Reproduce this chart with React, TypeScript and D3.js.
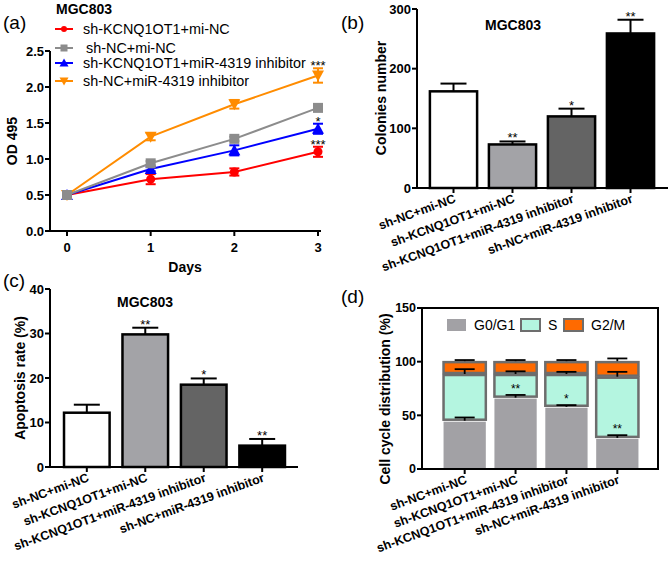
import React from "react";
import * as d3 from "d3";

// ---------- Data ----------
const days = [0, 1, 2, 3];
const lineSeries = ["sh-KCNQ1OT1+mi-NC", "sh-NC+mi-NC", "sh-KCNQ1OT1+miR-4319 inhibitor", "sh-NC+miR-4319 inhibitor"];
const lineColors = ["#ff0000", "#8c8c8c", "#0000ff", "#ff8c00"];
const lineShapes = ["circle", "square", "triangleUp", "triangleDown"];
const odValues = [
  [0.5, 0.72, 0.82, 1.1],
  [0.5, 0.94, 1.28, 1.71],
  [0.5, 0.86, 1.12, 1.42],
  [0.5, 1.31, 1.76, 2.16],
];
const odErrors = [
  [0.02, 0.07, 0.05, 0.07],
  [0.02, 0.03, 0.03, 0.04],
  [0.02, 0.03, 0.07, 0.07],
  [0.02, 0.05, 0.06, 0.1],
];
const odStars = ["***", "", "*", "***"];
const odTicks = [0, 0.5, 1.0, 1.5, 2.0, 2.5];
const drawOrder = [0, 2, 3, 1];

const groups = ["sh-NC+mi-NC", "sh-KCNQ1OT1+mi-NC", "sh-KCNQ1OT1+miR-4319 inhibitor", "sh-NC+miR-4319 inhibitor"];
const barFills = ["#ffffff", "#a3a3a7", "#646464", "#000000"];

const colonies = [162, 73, 120, 259];
const coloniesErr = [13, 5, 13, 23];
const coloniesStars = ["", "**", "*", "**"];
const coloniesTicks = [0, 100, 200, 300];

const apoptosis = [12.2, 29.8, 18.5, 4.8];
const apoptosisErr = [1.8, 1.5, 1.4, 1.5];
const apoptosisStars = ["", "**", "*", "**"];
const apoptosisTicks = [0, 10, 20, 30, 40];

const phases = ["G0/G1", "S", "G2/M"];
const phaseColors = ["#a2a1a5", "#b4f5e0", "#ff6a00"];
const g0g1 = [45, 66.5, 58, 29];
const sPhase = [43.5, 22, 30.5, 57];
const g2m = [12, 12, 12, 14.5];
const g0g1Err = [3, 2.5, 1.5, 2.5];
const sErr = [4.5, 2.5, 2, 4.5];
const g2mErr = [1, 1, 1, 2.5];
const g0g1Stars = ["", "**", "*", "**"];
const cycleTicks = [0, 50, 100, 150];

const FONT = "'Liberation Sans', Arial, sans-serif";

function Marker({ shape, x, y, color, s = 5 }: any) {
  if (shape === "circle") return <circle cx={x} cy={y} r={s - 0.5} fill={color} />;
  if (shape === "square") return <rect x={x - s} y={y - s} width={2 * s} height={2 * s} fill={color} />;
  if (shape === "triangleUp")
    return <path d={`M${x},${y - s - 1}L${x + s + 1},${y + s}L${x - s - 1},${y + s}Z`} fill={color} />;
  return <path d={`M${x},${y + s + 1}L${x + s + 1},${y - s}L${x - s - 1},${y - s}Z`} fill={color} />;
}

function YAxis({ scale, ticks, x, fmt, fs = 13 }: any) {
  const [r0, r1] = scale.range();
  return (
    <g>
      <line x1={x} x2={x} y1={r0} y2={r1} stroke="#000" strokeWidth={2} />
      {ticks.map((t: number) => (
        <g key={t}>
          <line x1={x - 5} x2={x} y1={scale(t)} y2={scale(t)} stroke="#000" strokeWidth={2} />
          <text x={x - 6} y={scale(t)} dy="0.35em" textAnchor="end" fontSize={fs} fontWeight="bold">
            {fmt ? fmt(t) : t}
          </text>
        </g>
      ))}
    </g>
  );
}

function ErrBar({ x, y0, y1, w, color = "#000", sw = 2 }: any) {
  return (
    <g stroke={color} strokeWidth={sw}>
      <line x1={x} x2={x} y1={y0} y2={y1} />
      <line x1={x - w} x2={x + w} y1={y1} y2={y1} />
    </g>
  );
}

function RotLabels({ scale, y }: any) {
  return (
    <g>
      {groups.map((g) => {
        const x = scale(g)! + scale.bandwidth() / 2;
        return (
          <g key={g}>
            <line x1={x} x2={x} y1={y} y2={y + 5} stroke="#000" strokeWidth={2} />
            <text
              transform={`translate(${x + 3},${y + 14}) rotate(-20)`}
              textAnchor="end"
              fontSize={12.5}
              fontWeight="bold"
            >
              {g}
            </text>
          </g>
        );
      })}
    </g>
  );
}

function PanelA() {
  const x = d3.scaleLinear().domain([0, 3]).range([67, 318]);
  const y = d3.scaleLinear().domain([0, 2.5]).range([231, 51]);
  const line = d3.line<number>().x((_, i) => x(days[i])).y((v) => y(v));
  return (
    <g>
      <text x={3} y={29} fontSize={19}>(a)</text>
      <text x={56} y={14} fontSize={14} fontWeight="bold">MGC803</text>
      {lineSeries.map((s, i) => {
        const ly = [29, 48, 63, 81][i];
        return (
          <g key={s}>
            <line x1={55} x2={73} y1={ly} y2={ly} stroke={lineColors[i]} strokeWidth={2} />
            <Marker shape={lineShapes[i]} x={64} y={ly} color={lineColors[i]} s={3.5} />
            <text x={i === 1 ? 86 : 83} y={ly} dy="0.35em" fontSize={14.4}>{s}</text>
          </g>
        );
      })}
      <YAxis scale={y} ticks={odTicks} x={50} fmt={(t: number) => t.toFixed(1)} />
      <line x1={49} x2={321} y1={231} y2={231} stroke="#000" strokeWidth={2} />
      {days.map((d) => (
        <g key={d}>
          <line x1={x(d)} x2={x(d)} y1={231} y2={236} stroke="#000" strokeWidth={2} />
          <text x={x(d)} y={252} textAnchor="middle" fontSize={13} fontWeight="bold">{d}</text>
        </g>
      ))}
      <text x={185} y={272} textAnchor="middle" fontSize={14} fontWeight="bold">Days</text>
      <text transform={`translate(17,141) rotate(-90)`} textAnchor="middle" fontSize={14} fontWeight="bold">
        OD 495
      </text>
      {drawOrder.map((i) => {
        const vals = odValues[i];
        return (
          <g key={i}>
            <path d={line(vals)!} fill="none" stroke={lineColors[i]} strokeWidth={2} />
            {vals.map((v, j) => (
              <g key={j} stroke={lineColors[i]} strokeWidth={2}>
                <line x1={x(days[j])} x2={x(days[j])} y1={y(v - odErrors[i][j])} y2={y(v + odErrors[i][j])} />
                <line x1={x(days[j]) - 5} x2={x(days[j]) + 5} y1={y(v - odErrors[i][j])} y2={y(v - odErrors[i][j])} />
                <line x1={x(days[j]) - 5} x2={x(days[j]) + 5} y1={y(v + odErrors[i][j])} y2={y(v + odErrors[i][j])} />
              </g>
            ))}
            {vals.map((v, j) => (
              <Marker key={"m" + j} shape={lineShapes[i]} x={x(days[j])} y={y(v)} color={lineColors[i]} s={5} />
            ))}
            {odStars[i] && (
              <text x={x(3)} y={y(vals[3] + odErrors[i][3]) + 2} textAnchor="middle" fontSize={13}>
                {odStars[i]}
              </text>
            )}
          </g>
        );
      })}
    </g>
  );
}

function PanelB() {
  const x = d3.scaleBand().domain(groups).range([424, 660]).paddingInner(0.2).paddingOuter(0.1);
  const y = d3.scaleLinear().domain([0, 300]).range([188, 9]);
  return (
    <g>
      <text x={341} y={29} fontSize={19}>(b)</text>
      <text x={513} y={30} textAnchor="middle" fontSize={14} fontWeight="bold">MGC803</text>
      <text transform={`translate(386,98) rotate(-90)`} textAnchor="middle" fontSize={14} fontWeight="bold">
        Colonies number
      </text>
      {groups.map((g, i) => (
        <g key={g}>
          <ErrBar x={x(g)! + x.bandwidth() / 2} y0={y(colonies[i])} y1={y(colonies[i] + coloniesErr[i])} w={13} />
          <rect x={x(g)!} y={y(colonies[i])} width={x.bandwidth()} height={y(0) - y(colonies[i])}
            fill={barFills[i]} stroke="#000" strokeWidth={2.5} />
          {coloniesStars[i] && (
            <text x={x(g)! + x.bandwidth() / 2} y={y(colonies[i] + coloniesErr[i]) + 1} textAnchor="middle" fontSize={13}>
              {coloniesStars[i]}
            </text>
          )}
        </g>
      ))}
      <YAxis scale={y} ticks={coloniesTicks} x={417} />
      <line x1={416} x2={668} y1={188} y2={188} stroke="#000" strokeWidth={2} />
      <RotLabels scale={x} y={188} />
    </g>
  );
}

function PanelC() {
  const x = d3.scaleBand().domain(groups).range([57, 292]).paddingInner(0.22).paddingOuter(0.12);
  const y = d3.scaleLinear().domain([0, 40]).range([467, 289]);
  return (
    <g>
      <text x={3} y={287} fontSize={19}>(c)</text>
      <text x={145} y={307} textAnchor="middle" fontSize={14} fontWeight="bold">MGC803</text>
      <text transform={`translate(25,378) rotate(-90)`} textAnchor="middle" fontSize={14} fontWeight="bold">
        Apoptosis rate (%)
      </text>
      {groups.map((g, i) => (
        <g key={g}>
          <ErrBar x={x(g)! + x.bandwidth() / 2} y0={y(apoptosis[i])} y1={y(apoptosis[i] + apoptosisErr[i])} w={13} />
          <rect x={x(g)!} y={y(apoptosis[i])} width={x.bandwidth()} height={y(0) - y(apoptosis[i])}
            fill={barFills[i]} stroke="#000" strokeWidth={2.5} />
          {apoptosisStars[i] && (
            <text x={x(g)! + x.bandwidth() / 2} y={y(apoptosis[i] + apoptosisErr[i]) + 1} textAnchor="middle" fontSize={13}>
              {apoptosisStars[i]}
            </text>
          )}
        </g>
      ))}
      <YAxis scale={y} ticks={apoptosisTicks} x={50} />
      <line x1={49} x2={298} y1={467} y2={467} stroke="#000" strokeWidth={2} />
      <RotLabels scale={x} y={467} />
    </g>
  );
}

function PanelD() {
  const x = d3.scaleBand().domain(groups).range([440, 642]).paddingInner(0.13).paddingOuter(0.05);
  const y = d3.scaleLinear().domain([0, 150]).range([469, 308]);
  const stacks = groups.map((_, i) => [g0g1[i], sPhase[i], g2m[i]]);
  const errs = groups.map((_, i) => [g0g1Err[i], sErr[i], g2mErr[i]]);
  return (
    <g>
      <text x={341} y={303} fontSize={19}>(d)</text>
      <text transform={`translate(390,399) rotate(-90)`} textAnchor="middle" fontSize={14} fontWeight="bold">
        Cell cycle distribution (%)
      </text>
      <rect x={422} y={308} width={236} height={161} fill="none" stroke="#000" strokeWidth={2} />
      {groups.map((g, i) => {
        let acc = 0;
        const bx = x(g)!;
        const bw = x.bandwidth();
        const cx = bx + bw / 2;
        return (
          <g key={g}>
            {stacks[i].map((v, k) => {
              const y0 = acc;
              acc += v;
              return (
                <rect key={k} x={bx + 1} y={y(acc) + 1} width={bw - 2} height={y(y0) - y(acc) - 2}
                  fill={phaseColors[k]} stroke={k === 0 ? "none" : "#6d6d6d"} strokeWidth={2.5} />
              );
            })}
            {(() => {
              let a = 0;
              return stacks[i].map((v, k) => {
                a += v;
                return <ErrBar key={"e" + k} x={cx} y0={y(a)} y1={y(a + errs[i][k])} w={10} sw={1.8} />;
              });
            })()}
            {g0g1Stars[i] && (
              <text x={cx} y={y(g0g1[i] + g0g1Err[i]) - 2} textAnchor="middle" fontSize={12}>
                {g0g1Stars[i]}
              </text>
            )}
          </g>
        );
      })}
      <YAxis scale={y} ticks={cycleTicks} x={422} fs={12.5} />
      {phases.map((p, k) => {
        const lx = [447, 521, 564][k];
        return (
          <g key={p}>
            <rect x={lx} y={319} width={19} height={12} fill={phaseColors[k]} stroke={k === 0 ? "none" : "#6d6d6d"} strokeWidth={2} />
            <text x={lx + 27} y={325} dy="0.35em" fontSize={14}>{p}</text>
          </g>
        );
      })}
      <RotLabels scale={x} y={469} />
    </g>
  );
}

export default function App() {
  return (
    <svg width={671} height={567} style={{ position: "absolute", left: 0, top: 0, background: "#fff" }} fontFamily={FONT}>
      <rect width={671} height={567} fill="#fff" />
      <PanelA />
      <PanelB />
      <PanelC />
      <PanelD />
    </svg>
  );
}
